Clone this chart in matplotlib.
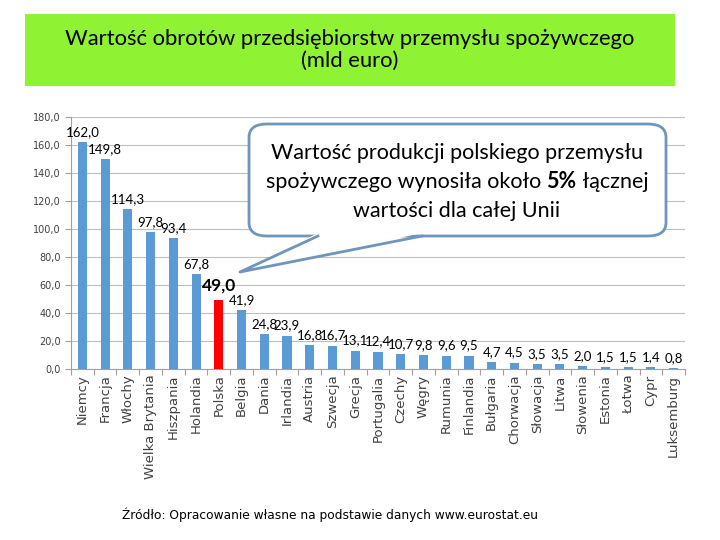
import matplotlib.pyplot as plt
from matplotlib.patches import FancyBboxPatch, Polygon, Rectangle
from matplotlib.ticker import FuncFormatter, MultipleLocator
import numpy as np

countries = ["Niemcy", "Francja", "Włochy", "Wielka Brytania", "Hiszpania", "Holandia",
             "Polska", "Belgia", "Dania", "Irlandia", "Austria", "Szwecja", "Grecja",
             "Portugalia", "Czechy", "Węgry", "Rumunia", "Finlandia", "Bułgaria",
             "Chorwacja", "Słowacja", "Litwa", "Słowenia", "Estonia", "Łotwa", "Cypr",
             "Luksemburg"]
values = [162.0, 149.8, 114.3, 97.8, 93.4, 67.8, 49.0, 41.9, 24.8, 23.9, 16.8, 16.7,
          13.1, 12.4, 10.7, 9.8, 9.6, 9.5, 4.7, 4.5, 3.5, 3.5, 2.0, 1.5, 1.5, 1.4, 0.8]
highlight = "Polska"

title = "Wartość obrotów przedsiębiorstw przemysłu spożywczego\n(mld euro)"
source = "Źródło: Opracowanie własne na podstawie danych www.eurostat.eu"

BLUE = "#5B9BD5"
RED = "#FF0000"
GREEN = "#8FF233"
CALLOUT = "#6F95BA"
TXT_FONT = "Lato"

fig = plt.figure(figsize=(7.2, 5.4), dpi=100)

# pixel -> figure fraction helpers
def fx(px):
    return px / 720

def fy(py):
    return 1 - py / 540

# green title box
fig.patches.append(Rectangle((fx(25), fy(86)), fx(675) - fx(25), fy(14) - fy(86),
                             transform=fig.transFigure, facecolor=GREEN, edgecolor="none"))
fig.text(fx(350), fy(50), title, ha="center", va="center", fontsize=15.8,
         family=TXT_FONT, linespacing=1.1, color="black")

ax = fig.add_axes([fx(71), fy(369), fx(685) - fx(71), fy(117) - fy(369)])
x = np.arange(len(countries))
colors = [RED if c == highlight else BLUE for c in countries]
ax.bar(x, values, width=0.4, color=colors, zorder=3)

ax.set_xlim(-0.5, len(countries) - 0.5)
ax.set_ylim(0, 180)
ax.yaxis.set_major_locator(MultipleLocator(20))
ax.yaxis.set_major_formatter(FuncFormatter(lambda v, p: f"{v:.1f}".replace(".", ",")))
ax.grid(axis="y", color="#BFBFBF", linewidth=0.8, zorder=0)
for s in ["top", "right"]:
    ax.spines[s].set_visible(False)
ax.spines["left"].set_color("#A0A0A0")
ax.spines["bottom"].set_color("#A0A0A0")
ax.tick_params(axis="y", labelsize=7, colors="#A0A0A0", labelcolor="#404040", length=4)

# category ticks between bars
ax.set_xticks(np.arange(len(countries) + 1) - 0.5)
ax.set_xticklabels([])
ax.tick_params(axis="x", length=4, colors="#A0A0A0")
for i, c in enumerate(countries):
    ax.text(i, -4, c, rotation=90, ha="center", va="top", fontsize=9.5,
            color="#404040", family="DejaVu Sans")

# value labels
for i, (c, v) in enumerate(zip(countries, values)):
    lab = f"{v:.1f}".replace(".", ",")
    if c == highlight:
        ax.annotate(lab, (i, v), xytext=(0, 5), textcoords="offset points",
                    ha="center", va="bottom", fontsize=12.5, fontweight="bold",
                    family=TXT_FONT)
    else:
        ax.annotate(lab, (i, v), xytext=(0, 3), textcoords="offset points",
                    ha="center", va="bottom", fontsize=9.5, family=TXT_FONT)

# callout box
box = FancyBboxPatch((fx(249), fy(236)), fx(666) - fx(249), fy(124) - fy(236),
                     boxstyle="round,pad=0,rounding_size=0.025",
                     transform=fig.transFigure, facecolor="white",
                     edgecolor=CALLOUT, linewidth=2, zorder=5)
fig.patches.append(box)
wedge = Polygon([(fx(318), fy(233)), (fx(240), fy(272)), (fx(422), fy(233))],
                closed=True, transform=fig.transFigure, facecolor="white",
                edgecolor="none", zorder=6)
fig.patches.append(wedge)
fig.lines.append(plt.Line2D([fx(318), fx(240), fx(422)], [fy(236), fy(272), fy(236)],
                            transform=fig.transFigure, color=CALLOUT, linewidth=2, zorder=7))

fig.text(fx(457), fy(153), "Wartość produkcji polskiego przemysłu", ha="center",
         va="center", fontsize=15.5, family=TXT_FONT, zorder=8)
fig.text(fx(457), fy(211), "wartości dla całej Unii", ha="center",
         va="center", fontsize=15.5, family=TXT_FONT, zorder=8)

# middle line with bold "5%"
parts = [("spożywczego wynosiła około ", "normal"), ("5%", "bold"), (" łącznej", "normal")]
renderer = fig.canvas.get_renderer()
texts = []
for s, w in parts:
    t = fig.text(0, fy(182), s, ha="left", va="center", fontsize=15.5, family=TXT_FONT,
                 fontweight=w, zorder=8)
    texts.append(t)
widths = [t.get_window_extent(renderer).width for t in texts]
start = 457 - sum(widths) / 2
for t, w in zip(texts, widths):
    t.set_x(fx(start))
    start += w

fig.text(fx(122), fy(515), source, ha="left", va="center", fontsize=8.8,
         family="Liberation Sans Narrow", color="black")

fig.savefig("out.png", dpi=100)
